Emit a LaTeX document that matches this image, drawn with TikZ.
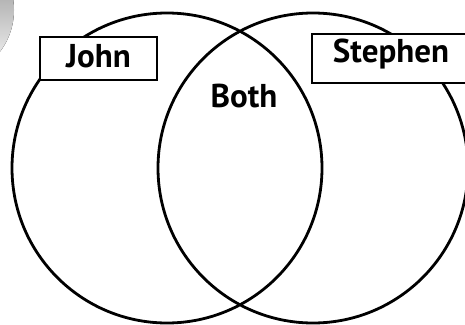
\documentclass[tikz,border=0pt]{standalone}
\usepackage{fontspec}
\setmainfont{PT Sans}
\definecolor{shade}{RGB}{192,192,192}
\tikzset{
  ring/.style={draw=black, line width=2.8pt},
  tag/.style={draw=black, line width=2.8pt, fill=white, inner sep=0pt},
  lbl/.style={font=\fontsize{33}{38}\selectfont\bfseries, inner sep=0pt}
}
\begin{document}
\begin{tikzpicture}[x=1pt,y=-1pt]
\useasboundingbox (0,0) rectangle (465,324);
\clip (0,0) rectangle (465,324);
\fill[white] (0,0) rectangle (465,324);
\fill[shade] (-55,10) circle (69);
\node[ring, circle, minimum size=310pt, inner sep=0pt] (left) at (167,168) {};
\node[ring, circle, minimum size=310pt, inner sep=0pt] (right) at (313,168) {};
\node[tag, minimum width=117pt, minimum height=43pt] (johnbox) at (98.5,58.5) {};
\node[lbl] (john) at (98.5,56) {John};
\node[tag, minimum width=158pt, minimum height=49pt] (stephenbox) at (391,58.5) {};
\node[lbl] (stephen) at (391,54) {Stephen};
\node[lbl] (both) at (244,96) {Both};
\end{tikzpicture}
\end{document}
